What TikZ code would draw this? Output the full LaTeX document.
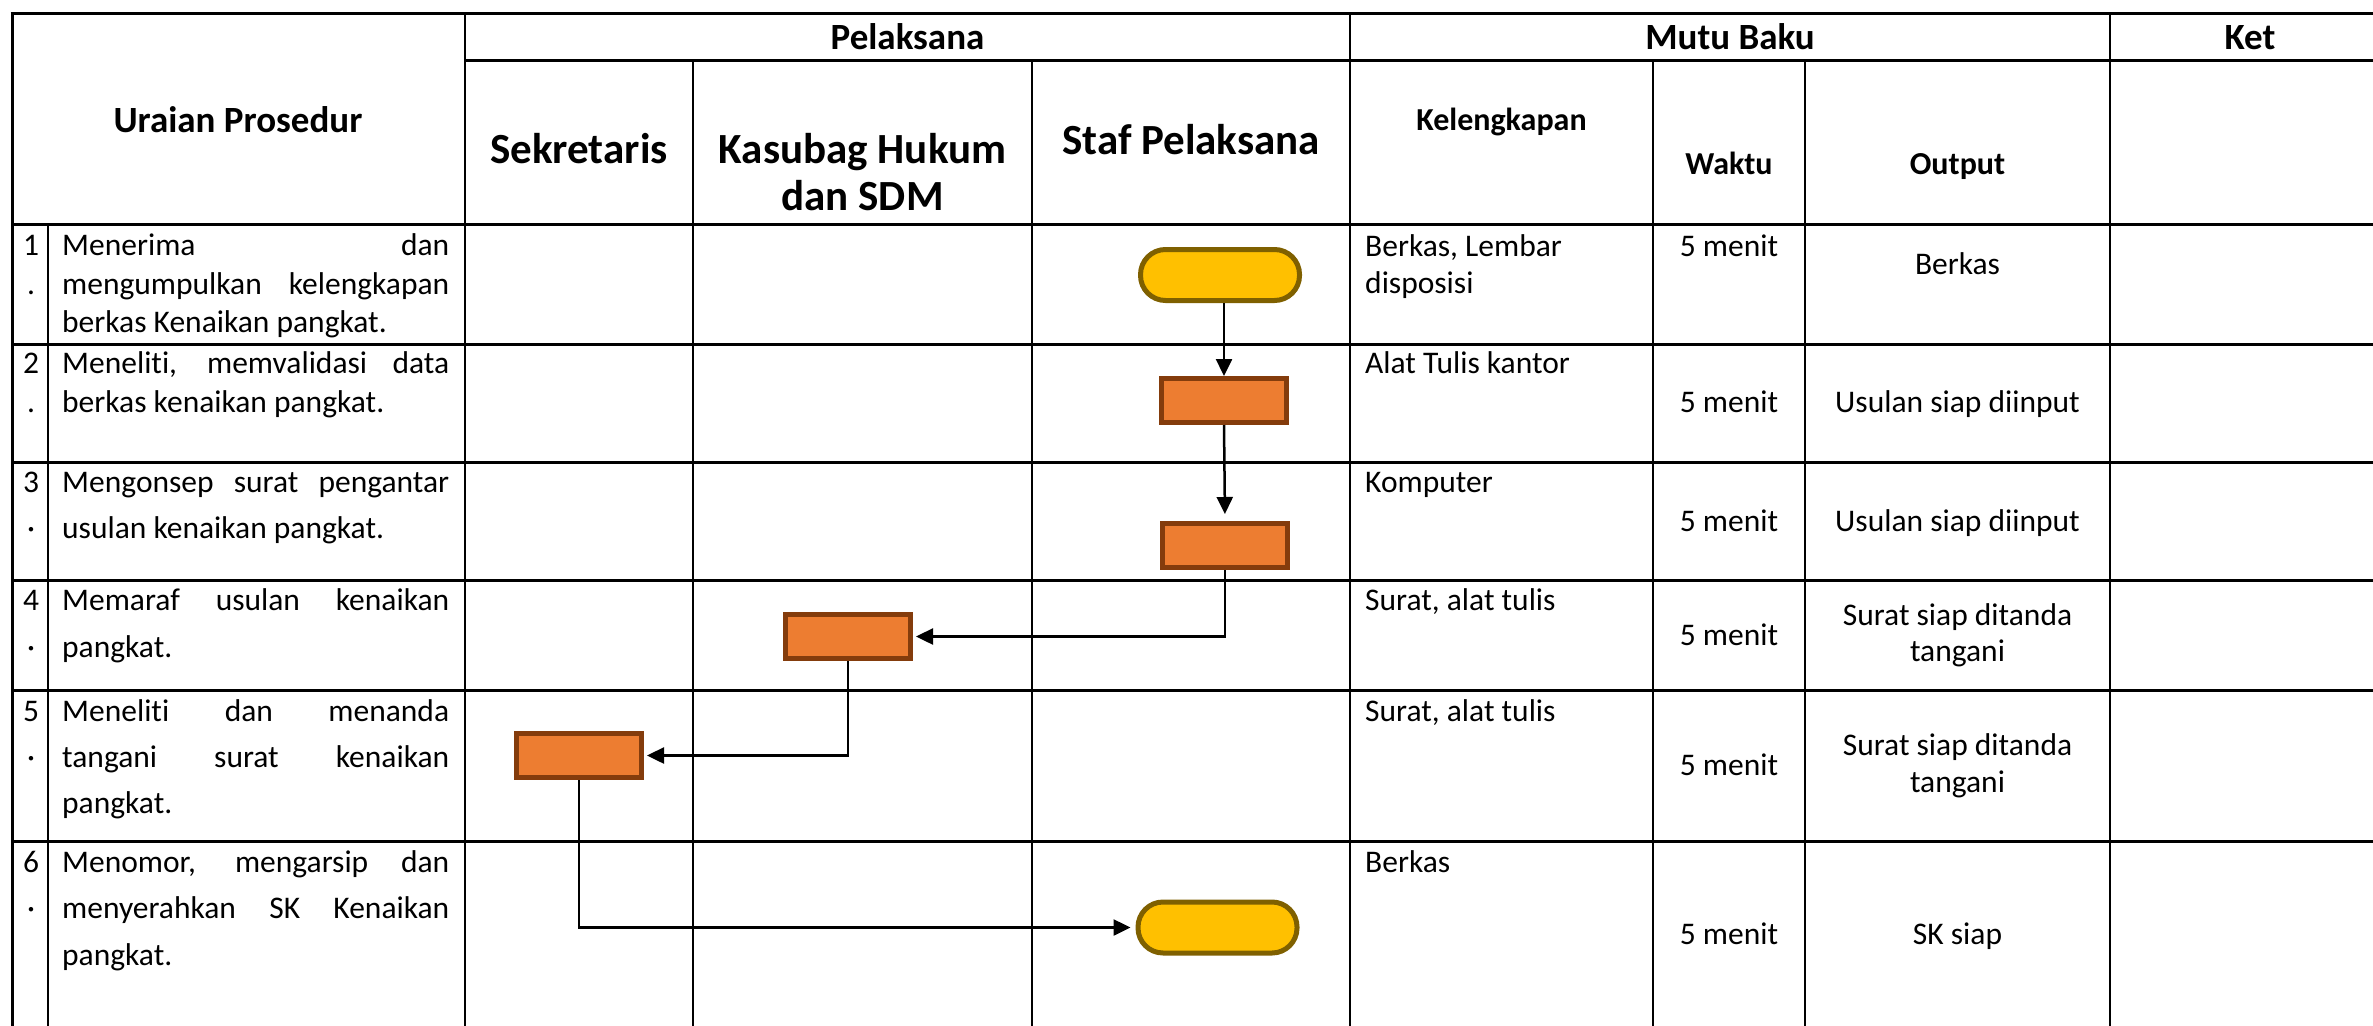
\documentclass[tikz,border=0pt]{standalone}
\usepackage{fontspec}
\setmainfont[Ligatures=NoCommon]{Carlito}
\usetikzlibrary{arrows.meta}
\definecolor{termfill}{HTML}{FFC000}
\definecolor{termdraw}{HTML}{7F6000}
\definecolor{procfill}{HTML}{ED7D31}
\definecolor{procdraw}{HTML}{843C0C}
\begin{document}
\begin{tikzpicture}[x=1pt,y=-1pt,
  hgrid/.style={line width=3pt, black},
  vgrid/.style={line width=2.2pt, black},
  txt/.style={inner sep=0pt, font=\fontsize{31.5}{38}\selectfont},
  hd/.style={inner sep=0pt, font=\bfseries\fontsize{37}{44}\selectfont},
  hdbig/.style={inner sep=0pt, font=\bfseries\fontsize{43}{48}\selectfont},
  hdsm/.style={inner sep=0pt, font=\bfseries\fontsize{32}{38}\selectfont},
  term/.style={draw=termdraw, fill=termfill, line width=5pt, rounded corners=25pt, minimum width=159pt, minimum height=51pt, inner sep=0pt},
  proc/.style={draw=procdraw, fill=procfill, line width=5pt, minimum width=125pt, minimum height=44pt, inner sep=0pt},
  flow/.style={line width=2.5pt, -{Triangle[length=17pt,width=16pt]}}
]
\useasboundingbox (0,0) rectangle (2373,1025);
\clip (0,0) rectangle (2373,1025);

% table grid
\draw[hgrid] (10.5,14) -- (2400,14);
\draw[hgrid] (465,61) -- (2400,61);
\foreach \yy in {224,344,462,580,690,841} \draw[hgrid] (12,\yy) -- (2400,\yy);
\draw[hgrid] (12,12.5) -- (12,1040);
\draw[vgrid] (48,224) -- (48,1040);
\foreach \xx in {465,1350,2110} \draw[vgrid] (\xx,14) -- (\xx,1040);
\foreach \xx in {693,1032,1653,1805} \draw[vgrid] (\xx,61) -- (\xx,1040);

% header
\node[hd, anchor=base] (hUraian) at (238,132) {Uraian Prosedur};
\node[hd, anchor=base] (hPel) at (907.5,50) {Pelaksana};
\node[hd, anchor=base] (hMutu) at (1730,50) {Mutu Baku};
\node[hd, anchor=base] (hKet) at (2250,50) {Ket};
\node[hdbig, anchor=base] (hSek) at (579,163) {Sekretaris};
\node[hdbig, anchor=base] (hKas1) at (862.5,163) {Kasubag Hukum};
\node[hdbig, anchor=base] (hKas2) at (862.5,210) {dan SDM};
\node[hdbig, anchor=base] (hStaf) at (1191,154) {Staf Pelaksana};
\node[hdsm, anchor=base] (hKel) at (1501.5,130) {Kelengkapan};
\node[hdsm, anchor=base] (hWak) at (1729,174) {Waktu};
\node[hdsm, anchor=base] (hOut) at (1957.5,174) {Output};

% numbers
\node[txt, anchor=base] (n1) at (31,255) {1};
\node[txt, anchor=base] (n1d) at (31,294) {.};
\node[txt, anchor=base] (n2) at (31,373) {2};
\node[txt, anchor=base] (n2d) at (31,412) {.};
\node[txt, anchor=base] (n3) at (31,492) {3};
\node[txt, anchor=base] (n3d) at (31,538) {·};
\node[txt, anchor=base] (n4) at (31,610) {4};
\node[txt, anchor=base] (n4d) at (31,657) {·};
\node[txt, anchor=base] (n5) at (31,721) {5};
\node[txt, anchor=base] (n5d) at (31,767) {·};
\node[txt, anchor=base] (n6) at (31,872) {6};
\node[txt, anchor=base] (n6d) at (31,918) {·};

% uraian prosedur
\node[txt, anchor=base west] (u1a) at (62,255) {\makebox[387pt][s]{Menerima dan}};
\node[txt, anchor=base west] (u1b) at (62,294) {\makebox[387pt][s]{mengumpulkan kelengkapan}};
\node[txt, anchor=base west] (u1c) at (62,332) {berkas Kenaikan pangkat.};
\node[txt, anchor=base west] (u2a) at (62,373) {\makebox[387pt][s]{Meneliti, memvalidasi data}};
\node[txt, anchor=base west] (u2b) at (62,412) {berkas kenaikan pangkat.};
\node[txt, anchor=base west] (u3a) at (62,492) {\makebox[387pt][s]{Mengonsep surat pengantar}};
\node[txt, anchor=base west] (u3b) at (62,538) {usulan kenaikan pangkat.};
\node[txt, anchor=base west] (u4a) at (62,610) {\makebox[387pt][s]{Memaraf usulan kenaikan}};
\node[txt, anchor=base west] (u4b) at (62,657) {pangkat.};
\node[txt, anchor=base west] (u5a) at (62,721) {\makebox[387pt][s]{Meneliti dan menanda}};
\node[txt, anchor=base west] (u5b) at (62,767) {\makebox[387pt][s]{tangani surat kenaikan}};
\node[txt, anchor=base west] (u5c) at (62,813) {pangkat.};
\node[txt, anchor=base west] (u6a) at (62,872) {\makebox[387pt][s]{Menomor, mengarsip dan}};
\node[txt, anchor=base west] (u6b) at (62,918) {\makebox[387pt][s]{menyerahkan SK Kenaikan}};
\node[txt, anchor=base west] (u6c) at (62,965) {pangkat.};

% kelengkapan
\node[txt, anchor=base west] (k1a) at (1365,256) {Berkas, Lembar};
\node[txt, anchor=base west] (k1b) at (1365,293) {disposisi};
\node[txt, anchor=base west] (k2) at (1365,373) {Alat Tulis kantor};
\node[txt, anchor=base west] (k3) at (1365,492) {Komputer};
\node[txt, anchor=base west] (k4) at (1365,610) {Surat, alat tulis};
\node[txt, anchor=base west] (k5) at (1365,721) {Surat, alat tulis};
\node[txt, anchor=base west] (k6) at (1365,872) {Berkas};

% waktu
\node[txt, anchor=base] (w1) at (1729,256) {5 menit};
\node[txt, anchor=base] (w2) at (1729,412) {5 menit};
\node[txt, anchor=base] (w3) at (1729,531) {5 menit};
\node[txt, anchor=base] (w4) at (1729,645) {5 menit};
\node[txt, anchor=base] (w5) at (1729,775) {5 menit};
\node[txt, anchor=base] (w6) at (1729,944) {5 menit};

% output
\node[txt, anchor=base] (o1) at (1957.5,274) {Berkas};
\node[txt, anchor=base] (o2) at (1957.5,412) {Usulan siap diinput};
\node[txt, anchor=base] (o3) at (1957.5,531) {Usulan siap diinput};
\node[txt, anchor=base] (o4a) at (1957.5,625) {Surat siap ditanda};
\node[txt, anchor=base] (o4b) at (1957.5,661) {tangani};
\node[txt, anchor=base] (o5a) at (1957.5,755) {Surat siap ditanda};
\node[txt, anchor=base] (o5b) at (1957.5,792) {tangani};
\node[txt, anchor=base] (o6) at (1957.5,944) {SK siap};

% flow shapes
\node[term] (t1) at (1220,275) {};
\node[proc] (r2) at (1224,400.5) {};
\node[proc] (r3) at (1225,545.5) {};
\node[proc] (r4) at (848,636.5) {};
\node[proc] (r5) at (579,755.5) {};
\node[term] (t6) at (1217.5,927.5) {};

% connectors
\draw[flow] (t1.south -| r2.north) -- (r2.north);
\draw[flow, shorten >=7pt] (r2.south) -- (r3.north);
\draw[flow, shorten >=3pt] (r3.south) |- (r4.east);
\draw[flow, shorten >=3pt] (r4.south) |- (r5.east);
\draw[flow, shorten >=5pt] (r5.south) |- (t6.west);
\end{tikzpicture}
\end{document}
